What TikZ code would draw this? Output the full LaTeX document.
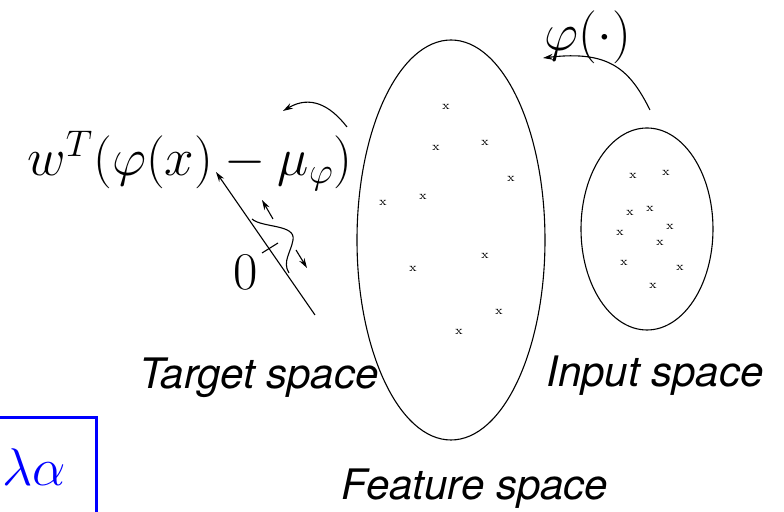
\RequirePackage{fix-cm}
\documentclass[tikz,border=0pt]{standalone}
\usepackage{fontspec}
\newfontfamily\labelfont{TeX Gyre Heros}
\usetikzlibrary{arrows.meta,shapes.geometric}

\tikzset{
  space/.style={draw, ellipse, inner sep=0pt},
  pt/.style={inner sep=0pt, font=\fontsize{6}{7}\selectfont},
  big/.style={inner sep=0pt, font=\fontsize{26.5}{30}\selectfont},
  tag/.style={inner sep=0pt, anchor=base, font=\labelfont\itshape\fontsize{21}{24}\selectfont},
  tip/.style={-{Stealth[length=5pt,width=3pt]}}
}

\begin{document}
\begin{tikzpicture}[x=0.5pt, y=-0.5pt, line width=0.55pt]
\useasboundingbox (0,0) rectangle (784,512);

% the two spaces
\node [space, minimum width=94pt, minimum height=200pt] (feat) at (451,240) {};
\node [space, minimum width=66pt, minimum height=101pt] (inp) at (647,229) {};

% points in feature space
\node [pt] (f1) at (446,107) {x};
\node [pt] (f2) at (436,148) {x};
\node [pt] (f3) at (485,143) {x};
\node [pt] (f4) at (511,179) {x};
\node [pt] (f5) at (423,197) {x};
\node [pt] (f6) at (383,203) {x};
\node [pt] (f7) at (485,256) {x};
\node [pt] (f8) at (413,269) {x};
\node [pt] (f9) at (499,312) {x};
\node [pt] (f10) at (459,332) {x};

% points in input space
\node [pt] (i1) at (633,176) {x};
\node [pt] (i2) at (666,173) {x};
\node [pt] (i3) at (630,213) {x};
\node [pt] (i4) at (650,209) {x};
\node [pt] (i5) at (670,227) {x};
\node [pt] (i6) at (620,233) {x};
\node [pt] (i7) at (660,243) {x};
\node [pt] (i8) at (624,263) {x};
\node [pt] (i9) at (680,268) {x};
\node [pt] (i10) at (653,286) {x};

% formulas
\node [big] (proj) at (190,161) {$w^T(\varphi(x)-\mu_\varphi)$};
\node [big] (map) at (588,37) {$\varphi(\cdot)$};
\node [big] (zero) at (246,272) {$0$};
\node [big, text=blue] (reg) at (34,467) {$\lambda\alpha$};
\draw [blue, line width=1.5pt] (-5,418) -| (96,520);

% labels
\node [tag] (ltarget) at (259,389) {Target space};
\node [tag] (linput) at (655,387) {Input space};
\node [tag] (lfeat) at (475,500) {Feature space};

% target axis with the density on it
\coordinate (axlo) at (315,315);
\coordinate (axhi) at (216,172);
\draw [tip] (axlo) -- (axhi);
\draw (262,253) -- (278,243);
\draw (252,219) .. controls (262,228) and (296,224) .. (293,240)
  .. controls (291,252) and (282,262) .. (289,273);
\coordinate (up1) at (273,219);
\coordinate (up2) at (262,200);
\draw [tip] (up1) -- (up2);
\coordinate (dn1) at (296,250);
\coordinate (dn2) at (307,268);
\draw [tip] (dn1) -- (dn2);

% mappings
\coordinate (pf1) at (347,127);
\coordinate (pf2) at (283,111);
\draw [tip] (pf1) .. controls (330,105) and (310,95) .. (pf2);
\coordinate (pi1) at (650,110);
\coordinate (pi2) at (543,58);
\draw [tip] (pi1) .. controls (630,70) and (610,50) .. (pi2);
\end{tikzpicture}
\end{document}
